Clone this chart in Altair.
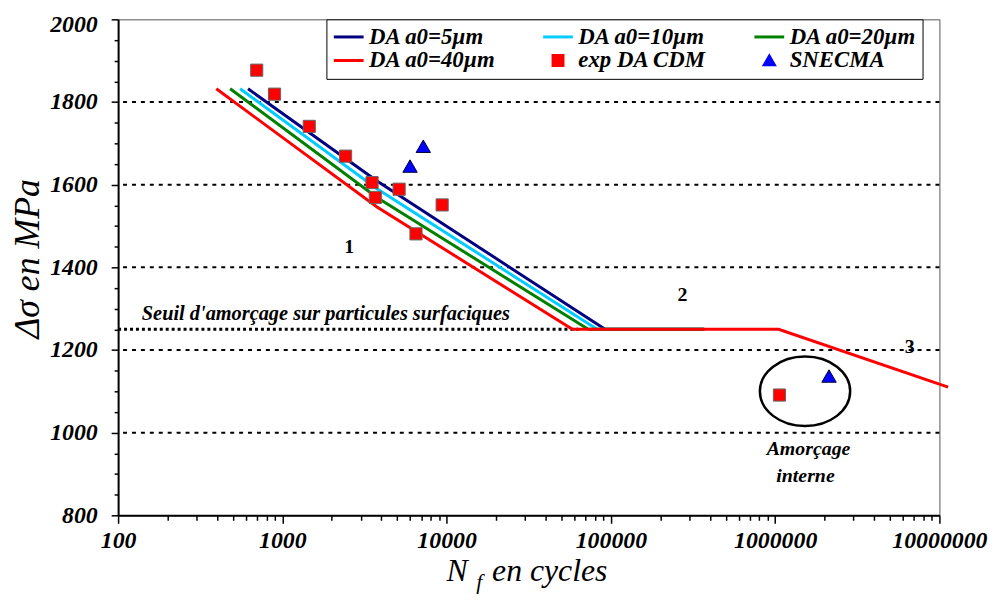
import altair as alt
import pandas as pd

# ---------------- data ----------------
series_names = ["DA a0=5µm", "DA a0=10µm", "DA a0=20µm", "DA a0=40µm", "exp DA CDM", "SNECMA"]
series_colors = ["#000080", "#00CCFF", "#008000", "#FF0000", "#FF0000", "#0000FF"]
series_shapes = ["M-3,0L3,0", "M-3,0L3,0", "M-3,0L3,0", "M-3,0L3,0", "square", "triangle-up"]

# model curves (Nf, stress range)
curve_5_N = [618, 3767, 92200, 370000]
curve_5_S = [1832, 1609, 1250, 1250]
curve_10_N = [553, 3767, 82500, 370000]
curve_10_S = [1832, 1590, 1250, 1250]
curve_20_N = [481, 3767, 72800, 370000]
curve_20_S = [1832, 1569, 1250, 1250]
curve_40_N = [396, 3767, 58300, 1050000, 11300000]
curve_40_S = [1832, 1546, 1250, 1250, 1110]

# experimental points
exp_N = [698, 896, 1458, 2425, 3515, 3680, 5138, 6508, 9393, 1062000]
exp_S = [1877, 1819, 1741, 1669, 1605, 1569, 1589, 1481, 1551, 1091]
snecma_N = [5988, 7212, 2128000]
snecma_S = [1645, 1693, 1137]

# grid lines and threshold
grid_S = [1000, 1200, 1400, 1600, 1800]
threshold_N = [100]
threshold_N2 = [63400]
threshold_S = [1250]
threshold_text = ["Seuil d'amorçage sur particules surfaciques"]
threshold_text_N = [1841]
threshold_text_S = [1287]

# region labels
region_text = ["1", "2", "3"]
region_N = [2553, 273000, 6590000]
region_S = [1448, 1333, 1208]

# internal initiation note + ellipse
note_text = ["Amorçage", "interne"]
note_N = [1596000, 1530000]
note_S = [961, 896]
ellipse_N = [1520000]
ellipse_S = [1100]

# ticks
x_ticks = [m * d for d in [100, 1000, 10000, 100000, 1000000] for m in range(1, 10)] + [10000000]
y_ticks = list(range(800, 2001, 50))

FONT = "Liberation Serif"

# ---------------- scales / axes ----------------
xscale = alt.Scale(type="log", domain=[100, 10000000], nice=False)
yscale = alt.Scale(domain=[800, 2000], nice=False, zero=False)
stroke_scale = alt.Scale(domain=series_names, range=series_colors)
fill_scale = alt.Scale(domain=series_names, range=series_colors)
shape_scale = alt.Scale(domain=series_names, range=series_shapes)

x_major_test = "indexof([100,1000,10000,100000,1000000,10000000], datum.value) >= 0"
y_major_test = "datum.value % 200 === 0"

xaxis = alt.Axis(
    values=x_ticks, format="d", title=None, grid=False,
    labelExpr=f"{x_major_test} ? datum.label : ''",
    labelFont=FONT, labelFontSize=24, labelFontStyle="italic", labelFontWeight="bold",
    labelColor="black", labelPadding=5, labelOverlap=False, labelFlush=False,
    tickSize={"condition": {"test": x_major_test, "value": 8}, "value": 5},
    tickColor="black", tickWidth=1.5, domainColor="black", domainWidth=2,
)
yaxis = alt.Axis(
    values=y_ticks, format="d", title="Δσ en MPa", grid=False,
    labelExpr=f"{y_major_test} ? datum.label : ''",
    labelFont=FONT, labelFontSize=24, labelFontStyle="italic", labelFontWeight="bold",
    labelColor="black", labelPadding=14, labelOverlap=False, labelFlush=False,
    labelOffset={"condition": {"test": "datum.value === 2000", "value": 5}, "value": 0},
    tickSize={"condition": {"test": y_major_test, "value": 7}, "value": 4},
    tickColor="black", tickWidth=1.5, domainColor="black", domainWidth=2,
    titleFont=FONT, titleFontSize=36, titleFontStyle="italic", titleFontWeight="normal",
    titleColor="black", titlePadding=3, titleY=241,
)

legend = alt.Legend(
    title=None, orient="none", legendX=210, legendY=0, columns=3, direction="horizontal",
    gridAlign="each", columnPadding=41, rowPadding=0, padding=6,
    strokeColor="black", fillColor="white",
    labelFont=FONT, labelFontSize=23, labelFontStyle="italic", labelFontWeight="bold",
    labelColor="black", labelOffset=9, labelLimit=400,
    symbolSize=100, symbolStrokeWidth=3, symbolOffset=5, symbolOpacity=1,
    symbolFillColor="black", symbolStrokeColor="black",
)

X = lambda f="N": alt.X(f"{f}:Q", scale=xscale, axis=xaxis)
Y = lambda f="S": alt.Y(f"{f}:Q", scale=yscale, axis=yaxis)

layers = []

# grid
layers.append(
    alt.Chart(pd.DataFrame({"S": grid_S})).mark_rule(
        color="black", strokeWidth=2, strokeDash=[4, 5]
    ).encode(y=Y())
)

# threshold dotted line
layers.append(
    alt.Chart(pd.DataFrame({"N": threshold_N, "N2": threshold_N2, "S": threshold_S})).mark_rule(
        color="black", strokeWidth=3, strokeDash=[3, 3]
    ).encode(x=X(), x2="N2:Q", y=Y())
)

# ellipse around internal initiation points
layers.append(
    alt.Chart(pd.DataFrame({"N": ellipse_N, "S": ellipse_S})).mark_point(
        shape="M-1,0A1,0.77,0,1,1,1,0A1,0.77,0,1,1,-1,0Z",
        size=8281, filled=False, stroke="black", strokeWidth=2.5, opacity=1,
    ).encode(x=X(), y=Y())
)

# model curves
curves = [
    (series_names[0], curve_5_N, curve_5_S),
    (series_names[1], curve_10_N, curve_10_S),
    (series_names[2], curve_20_N, curve_20_S),
    (series_names[3], curve_40_N, curve_40_S),
]
for name, ns, ss in curves:
    df = pd.DataFrame({"N": ns, "S": ss, "series": name, "i": list(range(len(ns)))})
    layers.append(
        alt.Chart(df).mark_line(strokeWidth=3, clip=False).encode(
            x=X(), y=Y(),
            stroke=alt.Stroke("series:N", scale=stroke_scale, legend=legend),
            order="i:Q",
        )
    )

# experimental squares
layers.append(
    alt.Chart(pd.DataFrame({"N": exp_N, "S": exp_S, "series": series_names[4]})).mark_point(
        size=150, filled=True, stroke="#666666", strokeWidth=1, opacity=1
    ).encode(
        x=X(), y=Y(),
        fill=alt.Fill("series:N", scale=fill_scale, legend=legend),
        shape=alt.Shape("series:N", scale=shape_scale, legend=legend),
    )
)
# SNECMA triangles
layers.append(
    alt.Chart(pd.DataFrame({"N": snecma_N, "S": snecma_S, "series": series_names[5]})).mark_point(
        size=210, filled=True, stroke="#000033", strokeWidth=1, opacity=1
    ).encode(
        x=X(), y=Y(),
        fill=alt.Fill("series:N", scale=fill_scale, legend=legend),
        shape=alt.Shape("series:N", scale=shape_scale, legend=legend),
    )
)

# texts
layers.append(
    alt.Chart(pd.DataFrame({"N": threshold_text_N, "S": threshold_text_S, "t": threshold_text})).mark_text(
        font=FONT, fontSize=20.5, fontStyle="italic", fontWeight="bold", color="black"
    ).encode(x=X(), y=Y(), text="t:N")
)
layers.append(
    alt.Chart(pd.DataFrame({"N": region_N, "S": region_S, "t": region_text})).mark_text(
        font=FONT, fontSize=20, fontWeight="bold", color="black"
    ).encode(x=X(), y=Y(), text="t:N")
)
layers.append(
    alt.Chart(pd.DataFrame({"N": note_N, "S": note_S, "t": note_text})).mark_text(
        font=FONT, fontSize=20, fontStyle="italic", fontWeight="bold", color="black"
    ).encode(x=X(), y=Y(), text="t:N")
)

# x-axis title with subscript f
xtitle_parts = ["N", "f", "en cycles"]
xtitle_sizes = [32, 22, 32]
xtitle_x = [331, 361, 377]
xtitle_y = [566, 574, 566]
for t, fs, px, py in zip(xtitle_parts, xtitle_sizes, xtitle_x, xtitle_y):
    layers.append(
        alt.Chart(pd.DataFrame({"t": [t]})).mark_text(
            font=FONT, fontSize=fs, fontStyle="italic", color="black",
            align="left", baseline="alphabetic",
        ).encode(x=alt.value(px), y=alt.value(py), text="t:N")
    )

chart = alt.layer(*layers).properties(
    width=828, height=500,
    padding={"left": 111, "top": 9, "right": 51, "bottom": 90},
    autosize=alt.AutoSizeParams(type="none"),
    background="white",
).configure_view(stroke="#555555", strokeWidth=1)

chart.save("out.html", embed_options={"renderer": "svg", "actions": False})
